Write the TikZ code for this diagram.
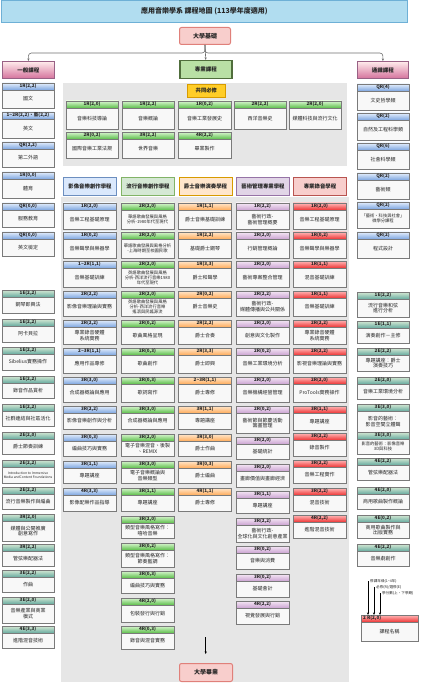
\documentclass[tikz,border=0pt]{standalone}
\usepackage{fontspec}
\setmainfont{Noto Sans CJK TC}
\usetikzlibrary{arrows.meta,shadows}
\definecolor{boxgray}{HTML}{7A7A7A}
\definecolor{txtc}{HTML}{262626}
\definecolor{areagray}{HTML}{E6E6E6}
\definecolor{bodyc}{HTML}{F8F8F8}
\definecolor{hbT}{HTML}{E3EEFC}\definecolor{hbB}{HTML}{7EA6E0}
\definecolor{hgT}{HTML}{D8F5CF}\definecolor{hgB}{HTML}{5CBF4A}
\definecolor{hoT}{HTML}{FFE6CC}\definecolor{hoB}{HTML}{FFAD5C}
\definecolor{hpT}{HTML}{F5E8F5}\definecolor{hpB}{HTML}{CBA3D2}
\definecolor{hrT}{HTML}{FFB8B8}\definecolor{hrB}{HTML}{EE3535}
\definecolor{htT}{HTML}{D5E8D4}\definecolor{htB}{HTML}{67AB9F}
\newcommand\myfB{\fontsize{5}{5.8}\selectfont}
\newcommand\myfS{\fontsize{4.3}{5}\selectfont}
\newcommand\myfT{\fontsize{3.3}{4}\selectfont}
\newcommand\crs[9]{%
  \node[crsbody,minimum width=#4pt,minimum height={(#6-#5)*1pt}] (#1) at (#3,#5) {};
  \node[#2,minimum width=#4pt] (#1h) at (#3,#5) {#7};
  \node[txt,font=#9] (#1t) at ({#3+#4/2},{(#5+7+#6)/2}) {#8};
}
\tikzset{
  crsbody/.style={draw=boxgray,fill=bodyc,line width=0.6pt,inner sep=0pt,outer sep=0pt,anchor=north west,
    drop shadow={shadow xshift=0.7pt,shadow yshift=-0.7pt,opacity=0.3}},
  crshd/.style={draw=boxgray,line width=0.5pt,inner sep=0pt,outer sep=0pt,anchor=north west,minimum height=7pt,
    text=txtc,font=\fontsize{4.6}{5}\selectfont\bfseries},
  hdB/.style={crshd,top color=hbT,bottom color=hbB},
  hdG/.style={crshd,top color=hgT,bottom color=hgB},
  hdO/.style={crshd,top color=hoT,bottom color=hoB},
  hdP/.style={crshd,top color=hpT,bottom color=hpB},
  hdR/.style={crshd,top color=hrT,bottom color=hrB},
  hdT/.style={crshd,top color=htT,bottom color=htB},
  txt/.style={inner sep=0pt,align=center,text=txtc},
  catpink/.style={anchor=north west,inner sep=0pt,top color=pink!30!white,bottom color={rgb,255:red,213;green,115;blue,157},
    draw={rgb,255:red,153;green,97;blue,133},line width=0.8pt,font=\fontsize{5.5}{6}\selectfont\bfseries,text=txtc},
  trk/.style={anchor=north west,inner sep=0pt,line width=1pt,minimum width=53pt,minimum height=18pt,
    font=\fontsize{5.4}{6}\selectfont\bfseries,text=txtc},
  capst/.style={anchor=north west,inner sep=0pt,fill={rgb,255:red,248;green,206;blue,204},draw={rgb,255:red,224;green,128;blue,122},
    line width=1pt,rounded corners=2pt,font=\fontsize{6}{7}\selectfont\bfseries,text=txtc},
  edge/.style={draw={rgb,255:red,110;green,110;blue,110},line width=0.6pt,rounded corners=3pt,-{Stealth[length=2.6pt,width=2.2pt]}},
  arr/.style={draw=black,line width=0.5pt,-{Stealth[length=2.6pt,width=2.2pt]}},
  lgtxt/.style={anchor=west,inner sep=0pt,font=\fontsize{3.6}{4}\selectfont,text=txtc}
}
\begin{document}
\begin{tikzpicture}[x=1pt,y=-1pt]
\useasboundingbox (0,0) rectangle (421,700);
% backgrounds
\fill[areagray] (63,83) rectangle (347,166);
\fill[areagray] (61,197) rectangle (349,682);
% title
\node[anchor=north west,inner sep=0pt,minimum width=406pt,minimum height=22pt,fill={rgb,255:red,177;green,221;blue,240},
  draw={rgb,255:red,110;green,176;blue,214},line width=0.8pt,font=\fontsize{7}{8}\selectfont\bfseries,text=txtc] (title) at (1,0)
  {應用音樂學系 課程地圖 (113學年度適用)};
% top-level nodes
\node[capst,minimum width=51pt,minimum height=17pt] (base) at (179,27) {大學基礎};
\node[catpink,minimum width=52pt,minimum height=17pt] (gen) at (2,61) {一般課程};
\node[anchor=north west,inner sep=0pt,minimum width=52pt,minimum height=18pt,fill={rgb,255:red,185;green,224;blue,165},
  draw={rgb,255:red,80;green,110;blue,60},line width=1.5pt,font=\fontsize{5.5}{6}\selectfont\bfseries,text=txtc] (prof) at (179,60) {專業課程};
\node[catpink,minimum width=51pt,minimum height=17pt] (ged) at (357,61) {通識課程};
\draw[edge] (base.south) -- ++(0,8) -| (gen.north);
\draw[edge] (base.south) -- ++(0,8) -| (ged.north);
\draw[edge] (base.south) -- (prof.north);
% common required
\node[anchor=north west,inner sep=0pt,minimum width=38pt,minimum height=13pt,fill={rgb,255:red,255;green,205;blue,40},
  draw={rgb,255:red,215;green,155;blue,0},line width=0.6pt,font=\fontsize{5.3}{6}\selectfont\bfseries,text=txtc] (reqlbl) at (187,84) {共同必修};
\crs{C1}{hdG}{66}{52}{101}{129}{1R(2,0)}{音樂科技導論}{\myfB}
\crs{C2}{hdG}{122}{52}{101}{129}{1R(2,2)}{音樂概論}{\myfB}
\crs{C3}{hdG}{178}{53}{101}{129}{1R(0,2)}{音樂工業發展史}{\myfB}
\crs{C4}{hdG}{234}{52}{101}{129}{2R(2,2)}{西洋音樂史}{\myfB}
\crs{C5}{hdG}{289}{52}{101}{129}{2R(2,0)}{媒體科技與流行文化}{\myfB}
\crs{C6}{hdG}{66}{52}{132}{158}{2R(0,2)}{國際音樂工業法規}{\myfB}
\crs{C7}{hdG}{122}{52}{132}{158}{3R(2,2)}{世界音樂}{\myfB}
\crs{C8}{hdG}{178}{53}{132}{158}{4R(2,2)}{畢業製作}{\myfB}
% left column
\crs{L1}{hdB}{2}{52}{83}{108}{1R(2,2)}{國文}{\myfB}
\crs{L2}{hdB}{2}{52}{112}{138}{1\textasciitilde 2R(2,2)、藝(2,2)}{英文}{\myfB}
\crs{L3}{hdB}{2}{52}{142}{167}{QR(2,2)}{第二外語}{\myfB}
\crs{L4}{hdB}{2}{52}{172}{198}{1R(0,0)}{體育}{\myfB}
\crs{L5}{hdB}{2}{52}{203}{227}{QR(0,0)}{服務教育}{\myfB}
\crs{L6}{hdB}{2}{52}{232}{256}{QR(0,0)}{英文檢定}{\myfB}
\crs{LE1}{hdT}{2}{52}{290}{313}{1E(2,2)}{鋼琴即興法}{\myfB}
\crs{LE2}{hdT}{2}{52}{319}{342}{1E(2,2)}{阿卡貝拉}{\myfB}
\crs{LE3}{hdT}{2}{52}{347}{370}{1E(2,2)}{Sibelius實務操作}{\myfB}
\crs{LE4}{hdT}{2}{52}{376}{398}{1E(2,2)}{錄音作品賞析}{\myfB}
\crs{LE5}{hdT}{2}{52}{404}{426}{1E(2,2)}{社群連結與社區活化}{\myfB}
\crs{LE6}{hdT}{2}{52}{432}{454}{2E(2,0)}{爵士節奏訓練}{\myfB}
\crs{LE7}{hdT}{2}{52}{460}{483}{2E(2,2)}{Introduction to Immersive\\Media andContent Foundations}{\myfT}
\crs{LE8}{hdT}{2}{52}{487}{509}{2E(2,2)}{流行音樂製作與編曲}{\myfB}
\crs{LE9}{hdT}{2}{52}{514}{541}{3R(2,0)}{媒體與公開推廣\\創意寫作}{\myfB}
\crs{LE10}{hdT}{2}{52}{544}{566}{3R(2,2)}{管弦樂配器法}{\myfB}
\crs{LE11}{hdT}{2}{52}{570}{592}{3E(2,2)}{作曲}{\myfB}
\crs{LE12}{hdT}{2}{52}{597}{623}{3E(2,0)}{音樂產業與商業\\模式}{\myfB}
\crs{LE13}{hdT}{2}{52}{626}{648}{4E(3,3)}{進階混音技術}{\myfB}
% right column
\crs{R1}{hdB}{357}{52}{84}{110}{QR(4)}{文史哲學類}{\myfB}
\crs{R2}{hdB}{357}{52}{113}{140}{QR(2)}{自然及工程科學類}{\myfB}
\crs{R3}{hdB}{357}{52}{143}{169}{QR(6)}{社會科學類}{\myfB}
\crs{R4}{hdB}{357}{52}{173}{199}{QR(2)}{藝術類}{\myfB}
\crs{R5}{hdB}{357}{52}{202}{228}{QR(2)}{「藝術、科技與社會」\\微學分課程}{\myfS}
\crs{R6}{hdB}{357}{52}{232}{258}{QR(2)}{程式設計}{\myfB}
\crs{RE1}{hdT}{357}{52}{292}{317}{1E(2,2)}{流行音樂和弦\\進行分析}{\myfB}
\crs{RE2}{hdT}{357}{52}{321}{343}{1E(1,1)}{演奏創作－主修}{\myfB}
\crs{RE3}{hdT}{357}{52}{348}{371}{2E(2,2)}{專題講座：爵士\\演奏技巧}{\myfB}
\crs{RE4}{hdT}{357}{52}{377}{399}{2E(2,0)}{音樂工業環境分析}{\myfB}
\crs{RE5}{hdT}{357}{52}{404}{432}{3E(3,0)}{影音的藝術：\\影音空間立體聲}{\myfB}
\crs{RE6}{hdT}{357}{52}{432}{454}{3E(3,0)}{影音的藝術：影像音樂\\3D與科技}{\myfS}
\crs{RE7}{hdT}{357}{52}{458}{480}{4E(2,2)}{管弦樂配器法}{\myfB}
\crs{RE8}{hdT}{357}{52}{487}{509}{4E(2,0)}{商用歌曲製作概論}{\myfB}
\crs{RE9}{hdT}{357}{52}{515}{538}{4E(0,2)}{商用歌曲製作與\\出版實務}{\myfB}
\crs{RE10}{hdT}{357}{52}{544}{566}{4E(2,2)}{音樂劇創作}{\myfB}
% track headers
\node[trk,fill={rgb,255:red,218;green,232;blue,252},draw={rgb,255:red,108;green,142;blue,191}] (t1) at (63,177) {影像音樂創作學程};
\node[trk,fill={rgb,255:red,213;green,232;blue,212},draw={rgb,255:red,130;green,179;blue,102}] (t2) at (121,177) {流行音樂創作學程};
\node[trk,fill={rgb,255:red,255;green,230;blue,204},draw={rgb,255:red,215;green,155;blue,0}] (t3) at (178.5,177) {爵士音樂演奏學程};
\node[trk,fill={rgb,255:red,225;green,213;blue,231},draw={rgb,255:red,150;green,115;blue,166}] (t4) at (236,177) {藝術管理專業學程};
\node[trk,fill={rgb,255:red,248;green,206;blue,204},draw={rgb,255:red,184;green,84;blue,80}] (t5) at (293,177) {專業錄音學程};
% col 1
\crs{A1}{hdB}{63}{53}{203}{229}{1R(2,0)}{音樂工程基礎原理}{\myfB}
\crs{A2}{hdB}{63}{53}{232}{258}{1R(0,2)}{音樂聲學與樂器學}{\myfB}
\crs{A3}{hdB}{63}{53}{261}{287}{1\textasciitilde 2R(1,1)}{音樂基礎訓練}{\myfB}
\crs{A4}{hdB}{63}{53}{291}{316}{2R(2,2)}{影像音樂理論與實務}{\myfB}
\crs{A5}{hdB}{63}{53}{320}{344}{2R(2,2)}{專業錄音硬體\\系統實務}{\myfB}
\crs{A6}{hdB}{63}{53}{348}{373}{2\textasciitilde 3R(1,1)}{應用作品專修}{\myfB}
\crs{A7}{hdB}{63}{53}{377}{402}{3R(3,0)}{合成器概論與應用}{\myfB}
\crs{A8}{hdB}{63}{53}{406}{429}{3R(2,2)}{影像音樂創作與分析}{\myfB}
\crs{A9}{hdB}{63}{53}{434}{456}{3R(0,3)}{編曲技巧與實務}{\myfB}
\crs{A10}{hdB}{63}{53}{461}{483}{3R(1,1)}{專題講座}{\myfB}
\crs{A11}{hdB}{63}{53}{488}{511}{4R(3,3)}{影像配樂作品指導}{\myfB}
% col 2
\crs{B1}{hdG}{121}{53}{203}{229}{2R(2,0)}{華語歌曲發展與風格\\分析-1980年代至現代}{\myfS}
\crs{B2}{hdG}{121}{53}{232}{258}{2R(2,0)}{華語歌曲發展與風格分析\\-上海時期至校園民歌}{\myfS}
\crs{B3}{hdG}{121}{53}{261}{287}{2R(2,0)}{英語歌曲發展與風格\\分析-西洋流行音樂1980\\年代至現代}{\myfS}
\crs{B4}{hdG}{121}{53}{291}{316}{2R(2,0)}{英語歌曲發展與風格\\分析-西洋流行音樂\\搖滾與民謠源流}{\myfS}
\crs{B5}{hdG}{121}{53}{320}{344}{2R(0,2)}{歌曲風格呈現}{\myfB}
\crs{B6}{hdG}{121}{53}{348}{373}{2R(0,3)}{歌曲創作}{\myfB}
\crs{B7}{hdG}{121}{53}{377}{402}{2R(0,3)}{歌詞寫作}{\myfB}
\crs{B8}{hdG}{121}{53}{406}{429}{3R(3,0)}{合成器概論與應用}{\myfB}
\crs{B9}{hdG}{121}{53}{434}{456}{3R(2,0)}{電子音樂混音、後製\\、REMIX}{\myfB}
\crs{B10}{hdG}{121}{53}{461}{483}{3R(3,0)}{電子音樂概論與\\音樂類型}{\myfB}
\crs{B11}{hdG}{121}{53}{488}{511}{3R(1,1)}{專題講座}{\myfB}
\crs{B12}{hdG}{121}{53}{516}{538}{3R(2,0)}{類型音樂風格寫作：\\嘻哈音樂}{\myfB}
\crs{B13}{hdG}{121}{53}{543}{567}{3R(0,2)}{類型音樂風格寫作：\\節奏藍調}{\myfB}
\crs{B14}{hdG}{121}{53}{571}{593}{3R(0,3)}{編曲技巧與實務}{\myfB}
\crs{B15}{hdG}{121}{53}{598}{622}{4R(2,0)}{包裝發行與行銷}{\myfB}
\crs{B16}{hdG}{121}{53}{626}{649}{4R(0,3)}{錄音與混音實務}{\myfB}
% col 3
\crs{J1}{hdO}{178.5}{53}{203}{229}{1R(1,1)}{爵士音樂基礎訓練}{\myfB}
\crs{J2}{hdO}{178.5}{53}{232}{258}{1R(2,2)}{基礎爵士鋼琴}{\myfB}
\crs{J3}{hdO}{178.5}{53}{261}{287}{1R(3,3)}{爵士和聲學}{\myfB}
\crs{J4}{hdO}{178.5}{53}{291}{316}{2R(0,2)}{爵士音樂史}{\myfB}
\crs{J5}{hdO}{178.5}{53}{320}{344}{2R(2,2)}{爵士合奏}{\myfB}
\crs{J6}{hdO}{178.5}{53}{348}{373}{2R(3,3)}{爵士即興}{\myfB}
\crs{J7}{hdO}{178.5}{53}{377}{402}{2\textasciitilde 3R(1,1)}{爵士專修}{\myfB}
\crs{J8}{hdO}{178.5}{53}{406}{429}{3R(1,1)}{專題講座}{\myfB}
\crs{J9}{hdO}{178.5}{53}{434}{456}{3R(3,0)}{爵士作曲}{\myfB}
\crs{J10}{hdO}{178.5}{53}{461}{483}{3R(0,3)}{爵士編曲}{\myfB}
\crs{J11}{hdO}{178.5}{53}{488}{511}{4R(1,1)}{爵士專修}{\myfB}
% col 4
\crs{M1}{hdP}{236}{53}{203}{229}{1R(2,2)}{藝術行政-\\藝術管理概要}{\myfB}
\crs{M2}{hdP}{236}{53}{232}{258}{2R(2,0)}{行銷管理概論}{\myfB}
\crs{M3}{hdP}{236}{53}{261}{287}{2R(2,0)}{藝術專案整合管理}{\myfB}
\crs{M4}{hdP}{236}{53}{291}{316}{2R(2,2)}{藝術行政-\\媒體傳播與公共關係}{\myfB}
\crs{M5}{hdP}{236}{53}{320}{344}{2R(2,0)}{創意與文化製作}{\myfB}
\crs{M6}{hdP}{236}{53}{348}{373}{2R(0,2)}{音樂工業環境分析}{\myfB}
\crs{M7}{hdP}{236}{53}{377}{402}{2R(2,0)}{音樂機構經營管理}{\myfB}
\crs{M8}{hdP}{236}{53}{406}{433}{2R(0,2)}{藝術節與節慶活動\\籌畫管理}{\myfB}
\crs{M9}{hdP}{236}{53}{437}{459}{3R(2,0)}{基礎統計}{\myfB}
\crs{M10}{hdP}{236}{53}{464}{487}{3R(2,0)}{畫廊價值與畫廊經濟}{\myfB}
\crs{M11}{hdP}{236}{53}{491}{513}{3R(1,1)}{專題講座}{\myfB}
\crs{M12}{hdP}{236}{53}{518}{542}{3R(2,2)}{藝術行政-\\全球化與文化創意產業}{\myfB}
\crs{M13}{hdP}{236}{53}{546}{569}{3R(0,2)}{音樂與消費}{\myfB}
\crs{M14}{hdP}{236}{53}{574}{597}{3R(0,2)}{基礎會計}{\myfB}
\crs{M15}{hdP}{236}{53}{601}{624}{4R(2,2)}{視覺發展與行銷}{\myfB}
% col 5
\crs{S1}{hdR}{293}{53}{203}{229}{1R(2,0)}{音樂工程基礎原理}{\myfB}
\crs{S2}{hdR}{293}{53}{232}{258}{1R(0,2)}{音樂聲學與樂器學}{\myfB}
\crs{S3}{hdR}{293}{53}{261}{287}{1R(1,1)}{混音基礎訓練}{\myfB}
\crs{S4}{hdR}{293}{53}{291}{316}{1R(1,1)}{音樂基礎訓練}{\myfB}
\crs{S5}{hdR}{293}{53}{320}{344}{2R(2,2)}{專業錄音硬體\\系統實務}{\myfB}
\crs{S6}{hdR}{293}{53}{348}{373}{2R(2,2)}{影視音樂理論與實務}{\myfB}
\crs{S7}{hdR}{293}{53}{377}{402}{2R(2,0)}{ProTools實務操作}{\myfB}
\crs{S8}{hdR}{293}{53}{406}{430}{3R(1,1)}{專題講座}{\myfB}
\crs{S9}{hdR}{293}{53}{433}{456}{3R(2,2)}{錄音製作}{\myfB}
\crs{S10}{hdR}{293}{53}{460}{483}{3R(2,2)}{音樂工程實作}{\myfB}
\crs{S11}{hdR}{293}{53}{488}{511}{3R(2,2)}{混音技術}{\myfB}
\crs{S12}{hdR}{293}{53}{515}{538}{4R(2,2)}{進階混音技術}{\myfB}
% graduation
\node[capst,minimum width=53pt,minimum height=18pt] (grad) at (179,663) {大學畢業};
\coordinate (ga) at (205.7,637);
\coordinate (gb) at (205.7,654);
\draw[arr] (ga) -- (gb);
% legend
\node[crsbody,minimum width=57pt,minimum height=26pt] (leg) at (361,615) {};
\node[hdR,minimum width=57pt] (legh) at (361,615) {};
\node[anchor=west,inner sep=0pt,font=\fontsize{4.6}{5}\selectfont\bfseries,text=txtc] (legl) at (363,618.5) {2 R(2,0)};
\node[txt,font=\myfB] (legt) at (389.5,631.5) {課程名稱};
\coordinate (la1) at (368,581);
\coordinate (la2) at (374,587);
\coordinate (la3) at (380,593);
\node[lgtxt] (lt1) at (370,581) {修課年級(1\textasciitilde 4年)};
\node[lgtxt] (lt2) at (376,587) {必修(R)/選修(E)};
\node[lgtxt] (lt3) at (382,593) {學分數(上、下學期)};
\draw[arr] (la1) -- (la1 |- legh.north);
\draw[arr] (la2) -- (la2 |- legh.north);
\draw[arr] (la3) -- (la3 |- legh.north);
\end{tikzpicture}
\end{document}
